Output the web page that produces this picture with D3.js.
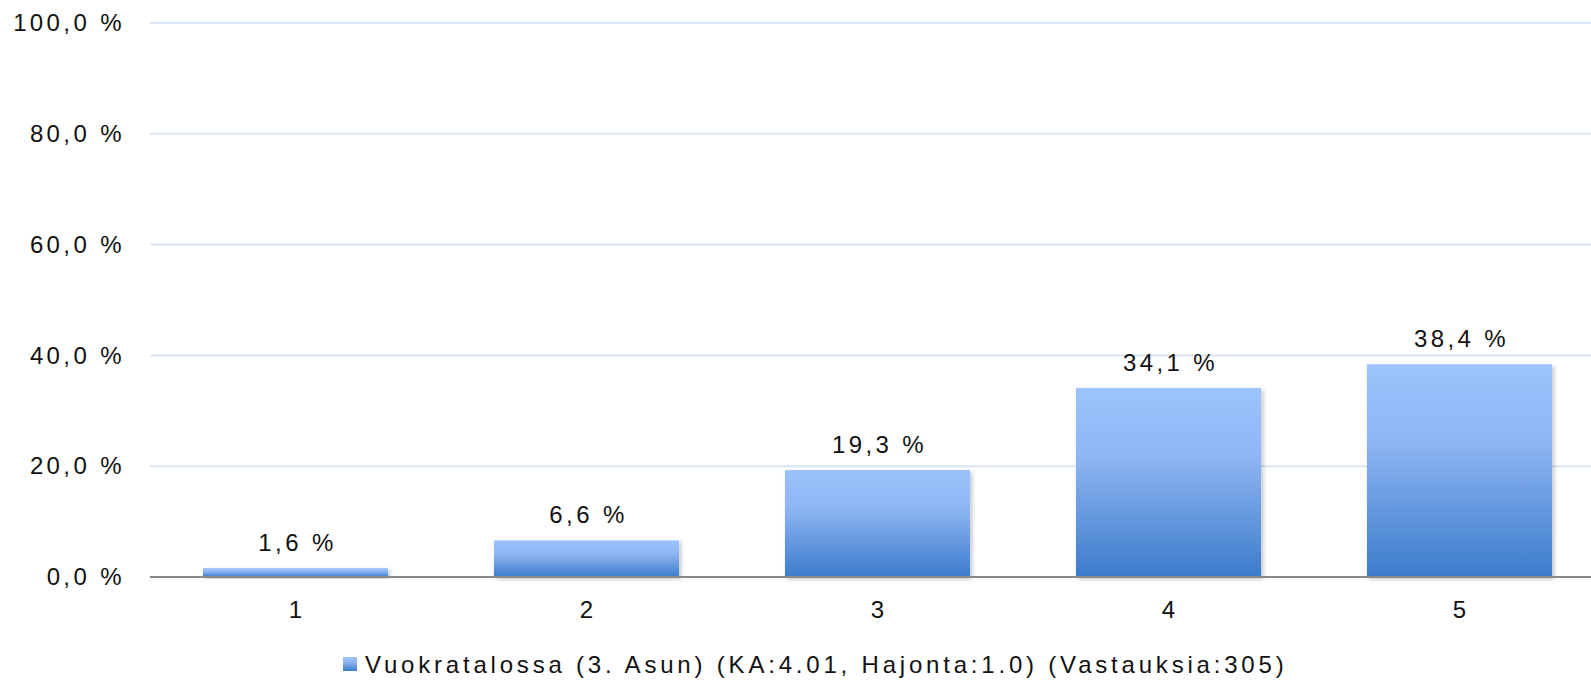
<!DOCTYPE html>
<html>
<head>
<meta charset="utf-8">
<script src="https://cdn.jsdelivr.net/npm/d3@7"></script>
<style>
  html, body { margin: 0; padding: 0; background: #fff; }
  svg { display: block; font-family: 'Liberation Sans', Arial, sans-serif; }
</style>
</head>
<body>
<div id="chart"></div>
<script>
const categories = ['1', '2', '3', '4', '5'];
const values = [1.6, 6.6, 19.3, 34.1, 38.4];
const yTicks = [0, 20, 40, 60, 80, 100];
const seriesName = 'Vuokratalossa (3. Asun) (KA:4.01, Hajonta:1.0) (Vastauksia:305)';

const svgWidth = 1591,
      svgHeight = 680;

const margin = { top: 23, left: 150, right: -14, bottom: 103 };

const width = svgWidth - margin.left - margin.right,
      height = svgHeight - margin.top - margin.bottom;

const fmt = v => d3.format('.1f')(v).replace('.', ',') + ' %';

const svg = d3.select('#chart')
              .append('svg')
              .attr('width', svgWidth)
              .attr('height', svgHeight);

const defs = svg.append('defs');
const grad = defs.append('linearGradient')
                 .attr('id', 'barGrad')
                 .attr('x1', 0).attr('y1', 0)
                 .attr('x2', 0).attr('y2', 1);
grad.append('stop').attr('offset', '0%').attr('stop-color', '#9dc3fe');
grad.append('stop').attr('offset', '35%').attr('stop-color', '#8fb6f3');
grad.append('stop').attr('offset', '100%').attr('stop-color', '#3c7ccb');

const shadow = defs.append('filter')
                   .attr('id', 'shadow')
                   .attr('x', '-10%').attr('y', '-10%')
                   .attr('width', '130%').attr('height', '130%');
shadow.append('feDropShadow')
      .attr('dx', 2).attr('dy', 2)
      .attr('stdDeviation', 2)
      .attr('flood-color', '#000')
      .attr('flood-opacity', 0.25);

const g = svg.append('g')
             .attr('transform', `translate(${margin.left},${margin.top})`);

// scales
const x = d3.scaleBand()
            .domain(categories)
            .range([0, width])
            .paddingInner(0.364)
            .paddingOuter(0.182);

const y = d3.scaleLinear()
            .domain([0, 100])
            .range([height, 0]);

// gridlines
g.append('g')
  .selectAll('line')
  .data(yTicks.filter(d => d > 0))
  .enter()
  .append('line')
  .attr('x1', 0)
  .attr('x2', width)
  .attr('y1', d => y(d))
  .attr('y2', d => y(d))
  .attr('stroke', '#dbe5f1')
  .attr('stroke-width', 2);

// y axis
const yAxis = d3.axisLeft(y)
                .tickValues(yTicks)
                .tickFormat(fmt)
                .tickSize(0)
                .tickPadding(25);

g.append('g')
  .call(yAxis)
  .call(a => a.select('.domain').remove())
  .selectAll('text')
  .attr('font-size', 24)
  .attr('letter-spacing', 3.4)
  .attr('fill', '#111')
  .attr('font-family', "'Liberation Sans', Arial, sans-serif");

// bars
g.append('g')
  .selectAll('rect')
  .data(values)
  .enter()
  .append('rect')
  .attr('x', (d, i) => x(categories[i]))
  .attr('y', d => y(d))
  .attr('width', x.bandwidth())
  .attr('height', d => height - y(d))
  .attr('fill', 'url(#barGrad)')
  .attr('filter', 'url(#shadow)');

// baseline
g.append('line')
  .attr('x1', 0)
  .attr('x2', width)
  .attr('y1', y(0))
  .attr('y2', y(0))
  .attr('stroke', '#898989')
  .attr('stroke-width', 2);

// value labels
g.append('g')
  .selectAll('text')
  .data(values)
  .enter()
  .append('text')
  .attr('x', (d, i) => x(categories[i]) + x.bandwidth() / 2 + 2)
  .attr('y', d => y(d) - 17)
  .attr('text-anchor', 'middle')
  .attr('font-size', 24)
  .attr('letter-spacing', 3.4)
  .attr('fill', '#111')
  .text(fmt);

// x axis
const xAxis = d3.axisBottom(x)
                .tickSize(0)
                .tickPadding(24);

g.append('g')
  .attr('transform', `translate(0,${height})`)
  .call(xAxis)
  .call(a => a.select('.domain').remove())
  .selectAll('text')
  .attr('font-size', 24)
  .attr('fill', '#111')
  .attr('font-family', "'Liberation Sans', Arial, sans-serif");

// legend
const legend = svg.append('g')
                  .attr('transform', 'translate(343,657)');

legend.append('rect')
      .attr('width', 14)
      .attr('height', 14)
      .attr('fill', 'url(#barGrad)');

legend.append('text')
      .attr('x', 22)
      .attr('y', 16)
      .attr('font-size', 24)
      .attr('letter-spacing', 3.8)
      .attr('fill', '#111')
      .text(seriesName);
</script>
</body>
</html>
